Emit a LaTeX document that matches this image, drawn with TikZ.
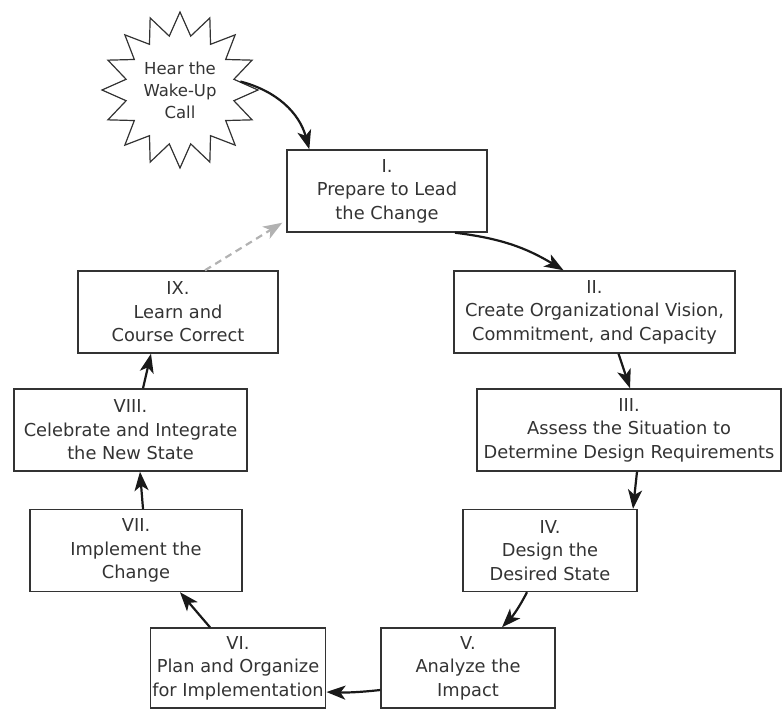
\documentclass[tikz,border=0pt]{standalone}
\usepackage{fontspec}
\setmainfont{DejaVu Sans}
\usetikzlibrary{arrows.meta, shapes.geometric, positioning}

\tikzset{
  stage/.style={draw=black!80, line width=1.4pt, align=center, text=black!80,
    minimum height=82pt, inner sep=2pt, font=\fontsize{17.8}{23.5}\selectfont},
  flow/.style={line width=2.2pt, draw=black!90, -{Stealth[length=19pt, width=14pt, inset=5pt]}},
  back/.style={line width=2.2pt, draw=black!30, dashed, dash pattern=on 7pt off 5pt,
    -{Stealth[length=19pt, width=14pt, inset=5pt]}}
}

\begin{document}
\begin{tikzpicture}[x=1pt, y=-1pt]
	\useasboundingbox (0,0) rectangle (783,710);
	
	\node[draw=black!80, line width=1.2pt, star, star points=16, star point ratio=1.42,
	  minimum size=156pt, inner sep=0pt, align=center, text=black!80,
	  font=\fontsize{16.5}{22}\selectfont] (wake) at (180,90) {Hear the\\Wake-Up\\Call};
	
	\node[stage, minimum width=200pt] (1) at (387,191) {I.\\Prepare to Lead\\the Change};
	\node[stage, minimum width=281pt] (2) at (594.5,312) {II.\\Create Organizational Vision,\\Commitment, and Capacity};
	\node[stage, minimum width=304pt] (3) at (629,430) {III.\\Assess the Situation to\\Determine Design Requirements};
	\node[stage, minimum width=174pt] (4) at (550,550.5) {IV.\\Design the\\Desired State};
	\node[stage, minimum width=174pt, minimum height=80pt] (5) at (468,668) {V.\\Analyze the\\Impact};
	\node[stage, minimum width=174pt, minimum height=80pt] (6) at (238,668) {VI.\\Plan and Organize\\for Implementation};
	\node[stage, minimum width=212pt] (7) at (136,550.5) {VII.\\Implement the\\Change};
	\node[stage, minimum width=233pt] (8) at (130.5,430) {VIII.\\Celebrate and Integrate\\the New State};
	\node[stage, minimum width=200pt] (9) at (178,312) {IX.\\Learn and\\Course Correct};
	
	\draw[flow] (wake.8) to[bend left=30] ([xshift=23pt]1.north west);
	\draw[flow] ([xshift=68pt]1.south) to[bend left=12] ([xshift=-31pt]2.north);
	\draw[flow] ([xshift=24pt]2.south) -- ([xshift=1pt]3.north);
	\draw[flow] ([xshift=8pt]3.south) -- ([xshift=83pt]4.north);
	\draw[flow] ([xshift=-23pt]4.south) to[bend left=8] ([xshift=34pt]5.north);
	\draw[flow] ([yshift=-22pt]5.west) to[bend left=4] ([yshift=-24pt]6.east);
	\draw[flow] ([xshift=-28pt]6.north) -- ([xshift=44pt]7.south);
	\draw[flow] ([xshift=7pt]7.north) -- ([xshift=9.5pt]8.south);
	\draw[flow] ([xshift=12.5pt]8.north) -- ([xshift=-27pt]9.south);
	\draw[back] ([xshift=27pt]9.north) -- ([xshift=-4pt, yshift=10pt]1.south west);
\end{tikzpicture}
\end{document}
